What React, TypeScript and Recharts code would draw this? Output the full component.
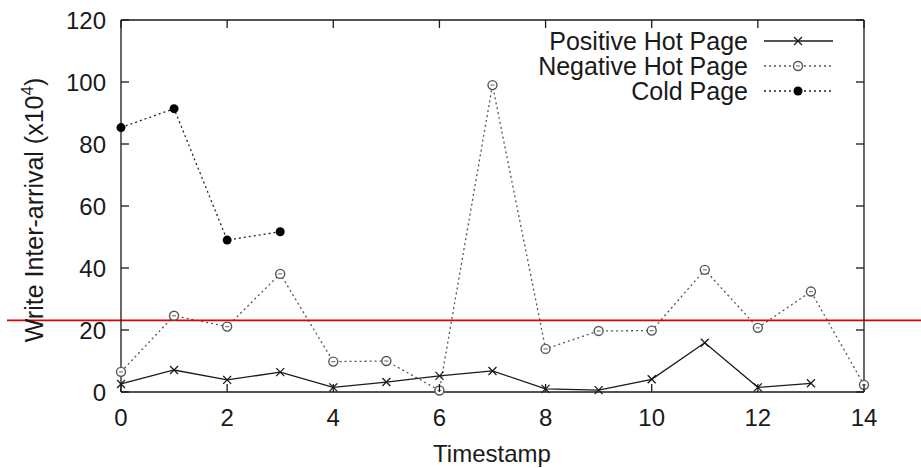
import { Legend, Line, LineChart, ReferenceLine, XAxis, YAxis } from "recharts";

// timestamps on the x axis
const timestamps = [0, 1, 2, 3, 4, 5, 6, 7, 8, 9, 10, 11, 12, 13, 14];
// write inter-arrival (x10^4) per page class
const positiveHot = [2.6, 7.1, 3.9, 6.4, 1.5, 3.2, 5.2, 6.8, 1.0, 0.6, 4.1, 15.9, 1.5, 2.8];
const negativeHot = [6.5, 24.6, 21.1, 38.1, 9.8, 10.0, 0.5, 99.0, 13.9, 19.7, 19.8, 39.4, 20.7, 32.4, 2.3];
const coldPage = [85.3, 91.4, 49.0, 51.7];
const threshold = 23.1;

const xTicks = [0, 2, 4, 6, 8, 10, 12, 14];
const yTicks = [0, 20, 40, 60, 80, 100, 120];

const FONT = "'Liberation Sans', Arial, sans-serif";
const INK = "#1a1a1a";
const TICK_LEN = 8;

const data = timestamps.map((t, i) => ({
    t,
    positive: positiveHot[i],
    negative: negativeHot[i],
    cold: coldPage[i],
}));

type Marker = "cross" | "ring" | "disc";

function drawMarker(kind: Marker, cx: number, cy: number, key?: string) {
    if (kind === "cross") {
        return (
            <g key={key}>
                <line x1={cx - 4} y1={cy - 4} x2={cx + 4} y2={cy + 4} stroke={INK} strokeWidth={1.3} />
                <line x1={cx - 4} y1={cy + 4} x2={cx + 4} y2={cy - 4} stroke={INK} strokeWidth={1.3} />
            </g>
        );
    }
    if (kind === "ring") {
        return (
            <g key={key}>
                <circle cx={cx} cy={cy} r={4.5} fill="#fff" stroke="#555" strokeWidth={1.4} />
                <line x1={cx - 2} y1={cy} x2={cx + 2} y2={cy} stroke="#777" strokeWidth={1.2} />
            </g>
        );
    }
    return <circle key={key} cx={cx} cy={cy} r={4.5} fill="#000" />;
}

const series = [
    { key: "positive", name: "Positive Hot Page", marker: "cross" as Marker, stroke: INK, dash: undefined },
    { key: "negative", name: "Negative Hot Page", marker: "ring" as Marker, stroke: "#555", dash: "2 3" },
    { key: "cold", name: "Cold Page", marker: "disc" as Marker, stroke: "#222", dash: "2 3" },
];

function dotFor(kind: Marker) {
    return (props: any) => {
        const { cx, cy, index, value } = props;
        if (cx == null || cy == null || value == null) return <g key={`n-${index}`} />;
        return drawMarker(kind, cx, cy, `d-${index}`);
    };
}

function LegendBox() {
    return (
        <svg width={330} height={80} style={{ overflow: "visible" }}>
            {series.map((s, i) => {
                const y = 15 + i * 25;
                return (
                    <g key={s.key}>
                        <text x={228} y={y} dy="0.35em" textAnchor="end" fontSize={25} fontFamily={FONT} fill={INK}>
                            {s.name}
                        </text>
                        <line x1={244} x2={313} y1={y} y2={y} stroke={s.stroke} strokeWidth={1.3} strokeDasharray={s.dash} />
                        {drawMarker(s.marker, 278, y)}
                    </g>
                );
            })}
        </svg>
    );
}

function YTitle() {
    return (
        <text x={43} y={210} transform="rotate(-90 43 210)" textAnchor="middle" fontSize={25} fontFamily={FONT} fill={INK}>
            Write Inter-arrival (x10
            <tspan fontSize={17} dy={-10}>4</tspan>
            <tspan dy={10}>)</tspan>
        </text>
    );
}

function XTitle() {
    return (
        <text x={492} y={462} textAnchor="middle" fontSize={24} fontFamily={FONT} fill={INK}>
            Timestamp
        </text>
    );
}

// inward tick marks, drawn next to the labels
function BottomTick({ x, y, payload }: any) {
    const axisY = y - 17;
    return (
        <g>
            <line x1={x} x2={x} y1={axisY} y2={axisY - TICK_LEN} stroke={INK} strokeWidth={1.3} />
            <text x={x} y={y} dy="0.71em" textAnchor="middle" fontSize={24} fontFamily={FONT} fill={INK}>
                {payload.value}
            </text>
        </g>
    );
}

function LeftTick({ x, y, payload }: any) {
    const axisX = x + 15;
    return (
        <g>
            <line x1={axisX} x2={axisX + TICK_LEN} y1={y} y2={y} stroke={INK} strokeWidth={1.3} />
            <text x={x} y={y} dy="0.355em" textAnchor="end" fontSize={24} fontFamily={FONT} fill={INK}>
                {payload.value}
            </text>
        </g>
    );
}

function TopTick({ x, y }: any) {
    return <line x1={x} x2={x} y1={y} y2={y + TICK_LEN} stroke={INK} strokeWidth={1.3} />;
}

function RightTick({ x, y }: any) {
    return <line x1={x} x2={x - TICK_LEN} y1={y} y2={y} stroke={INK} strokeWidth={1.3} />;
}

const axisLine = { stroke: INK, strokeWidth: 1.3 };

export default function App() {
    return (
        <div style={{ position: "absolute", left: 0, top: 0, background: "#fff" }}>
            <LineChart width={921} height={468} data={data} margin={{ top: 19, right: 56, bottom: 36, left: 61 }}>
                <XAxis
                    dataKey="t"
                    type="number"
                    domain={[0, 14]}
                    ticks={xTicks}
                    height={40}
                    tickSize={0}
                    tickMargin={17}
                    tick={<BottomTick />}
                    tickLine={false}
                    axisLine={axisLine}
                    label={{ content: () => <XTitle /> }}
                />
                <XAxis
                    xAxisId="top"
                    orientation="top"
                    dataKey="t"
                    type="number"
                    domain={[0, 14]}
                    ticks={xTicks}
                    height={1}
                    tickSize={0}
                    tickMargin={0}
                    tick={<TopTick />}
                    tickLine={false}
                    axisLine={axisLine}
                />
                <YAxis
                    type="number"
                    domain={[0, 120]}
                    ticks={yTicks}
                    width={60}
                    tickSize={0}
                    tickMargin={15}
                    tick={<LeftTick />}
                    tickLine={false}
                    axisLine={axisLine}
                    label={{ content: () => <YTitle /> }}
                />
                <YAxis
                    yAxisId="right"
                    orientation="right"
                    type="number"
                    domain={[0, 120]}
                    ticks={yTicks}
                    width={1}
                    tickSize={0}
                    tickMargin={0}
                    tick={<RightTick />}
                    tickLine={false}
                    axisLine={axisLine}
                />
                <Legend
                    layout="vertical"
                    align="center"
                    verticalAlign="middle"
                    content={() => <LegendBox />}
                    wrapperStyle={{ position: "absolute", left: 520, top: 26, width: 330, height: 80 }}
                />
                {/* invisible series so the top and right frame axes get a scale */}
                <Line
                    xAxisId="top"
                    yAxisId="right"
                    dataKey="negative"
                    stroke="none"
                    dot={false}
                    activeDot={false}
                    legendType="none"
                    isAnimationActive={false}
                />
                {series.map((s) => (
                    <Line
                        key={s.key}
                        dataKey={s.key}
                        name={s.name}
                        type="linear"
                        stroke={s.stroke}
                        strokeWidth={1.3}
                        strokeDasharray={s.dash}
                        dot={dotFor(s.marker)}
                        activeDot={false}
                        isAnimationActive={false}
                    />
                ))}
                <ReferenceLine
                    y={threshold}
                    shape={(p: any) => <line x1={7} x2={921} y1={p.y1} y2={p.y2} stroke="#e00000" strokeWidth={1.6} />}
                />
            </LineChart>
        </div>
    );
}
